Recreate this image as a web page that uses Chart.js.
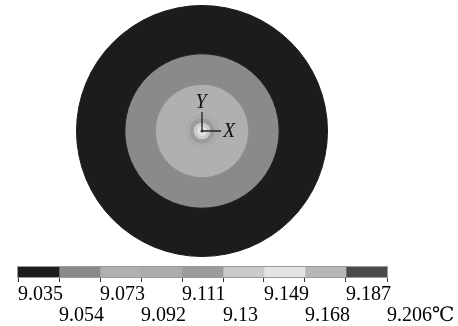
<!DOCTYPE html>
<html>
<head>
<meta charset="utf-8">
<script src="https://cdn.jsdelivr.net/npm/chart.js@4"></script>
<style>
  body { margin: 0; background: #fff; width: 458px; height: 326px; position: relative; overflow: hidden; }
  #disc { position: absolute; left: 76px; top: 5px; }
  #bar { position: absolute; left: 0; top: 260px; }
</style>
</head>
<body>
<canvas id="disc" width="252" height="252"></canvas>
<canvas id="bar" width="458" height="66"></canvas>
<script>
// contour levels (°C) shown on the colour bar
const levels = [9.035, 9.054, 9.073, 9.092, 9.111, 9.13, 9.149, 9.168, 9.187, 9.206];
const bandColors = ['#1c1c1c', '#8a8a8a', '#b0b0b0', '#ababab', '#9c9c9c', '#cbcbcb', '#e4e4e4', '#b6b6b6', '#4a4a4a'];

// isotherm boundaries, radius relative to the disc edge (outermost first) and the band inside each one
const isoRadius = [1, 0.615, 0.373, 0.14, 0.105, 0.07, 0.042];
const isoBand = [0, 1, 2, 3, 4, 5, 6];

Chart.defaults.animation = false;
Chart.defaults.font.family = '"Liberation Serif", "DejaVu Serif", serif';

const discDatasets = isoRadius.map((r, i) => {
  const inner = i + 1 < isoRadius.length ? isoRadius[i + 1] : 0;
  const col = bandColors[isoBand[i]];
  return {
    data: [1],
    weight: r - inner,
    backgroundColor: col,
    borderColor: col,
    borderWidth: 1,
    hoverOffset: 0
  };
});

const axesMark = {
  id: 'axesMark',
  afterDraw(chart) {
    const ctx = chart.ctx;
    const a = chart.chartArea;
    const cx = (a.left + a.right) / 2;
    const cy = (a.top + a.bottom) / 2;
    ctx.save();
    ctx.strokeStyle = '#222';
    ctx.lineWidth = 1.3;
    ctx.beginPath();
    ctx.moveTo(cx, cy - 19);
    ctx.lineTo(cx, cy);
    ctx.lineTo(cx + 19, cy);
    ctx.stroke();
    ctx.fillStyle = '#333';
    ctx.beginPath();
    ctx.arc(cx, cy, 1.5, 0, Math.PI * 2);
    ctx.fill();
    ctx.fillStyle = '#111';
    ctx.font = 'italic 20px "Liberation Serif", serif';
    ctx.textBaseline = 'middle';
    ctx.textAlign = 'center';
    ctx.fillText('Y', cx - 1, cy - 28);
    ctx.textAlign = 'left';
    ctx.fillText('X', cx + 21, cy + 1);
    ctx.restore();
  }
};

new Chart(document.getElementById('disc'), {
  type: 'pie',
  data: { labels: ['T'], datasets: discDatasets },
  options: {
    responsive: false,
    cutout: 0,
    layout: { padding: 0 },
    plugins: { legend: { display: false }, tooltip: { enabled: false } },
    events: []
  },
  plugins: [axesMark]
});

// colour bar: one floating bar per band
const barDatasets = bandColors.map((c, i) => ({
  data: [[levels[i], levels[i + 1]]],
  backgroundColor: c,
  borderWidth: 0,
  grouped: false,
  barPercentage: 1,
  categoryPercentage: 1
}));

const barOutline = {
  id: 'barOutline',
  afterDatasetsDraw(chart) {
    const a = chart.chartArea;
    const ctx = chart.ctx;
    ctx.save();
    ctx.strokeStyle = '#9a9a9a';
    ctx.lineWidth = 1;
    ctx.strokeRect(a.left - 0.5, a.top - 0.5, a.right - a.left + 1, a.bottom - a.top + 1);
    ctx.restore();
  }
};

new Chart(document.getElementById('bar'), {
  type: 'bar',
  data: { labels: [''], datasets: barDatasets },
  options: {
    responsive: false,
    indexAxis: 'y',
    layout: { padding: { left: 18, right: 71, top: 7, bottom: 0 } },
    plugins: { legend: { display: false }, tooltip: { enabled: false } },
    events: [],
    scales: {
      y: { display: false },
      x: {
        type: 'linear',
        min: levels[0],
        max: levels[levels.length - 1],
        afterBuildTicks(scale) {
          scale.ticks = levels.map(v => ({ value: v }));
        },
        afterFit(scale) {
          scale.paddingLeft = 0;
          scale.paddingRight = 0;
          scale.height = 49;
        },
        border: { display: false },
        grid: { drawOnChartArea: false, drawTicks: true, tickLength: 5, tickColor: '#333', lineWidth: 1 },
        ticks: {
          autoSkip: false,
          maxRotation: 0,
          minRotation: 0,
          align: 'start',
          padding: 2,
          color: '#000',
          font: { size: 20, lineHeight: 1.05 },
          callback(value, index) {
            let s = String(levels[index]);
            if (index === levels.length - 1) s += '℃';
            return index % 2 === 0 ? [s] : ['', s];
          }
        }
      }
    }
  },
  plugins: [barOutline]
});
</script>
</body>
</html>
